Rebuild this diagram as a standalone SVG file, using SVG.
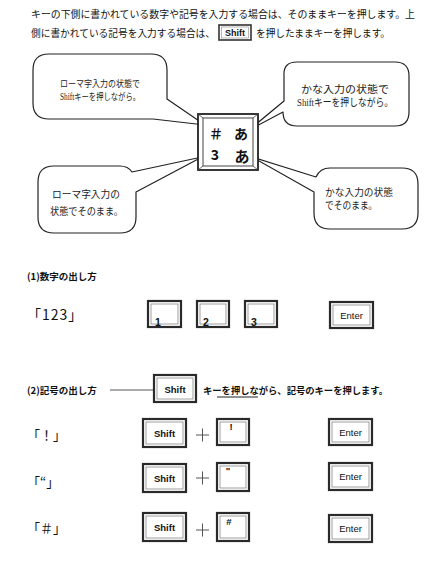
<svg xmlns="http://www.w3.org/2000/svg" width="444" height="563" viewBox="0 0 444 563">
<style>
.jp{font-family:"Noto Sans CJK JP","Noto Sans",sans-serif;fill:#111}
.mc{font-family:"Liberation Serif","Noto Sans CJK JP",serif;fill:#222}
.b{font-weight:bold}
.callout{fill:#fff;stroke:#222;stroke-width:1.2;stroke-linejoin:round}
.ko{fill:#fff;stroke:#2a2a2a;stroke-width:2.2}
.ki{fill:none;stroke:#777;stroke-width:0.7}
.kt{font-family:"Liberation Sans",Arial,sans-serif;fill:#111;text-anchor:middle}
.plus{stroke:#555;stroke-width:1}
</style>
<rect width="444" height="563" fill="#fff"/>

<g id="intro">
<text class="jp" x="31" y="18" font-size="9.8" textLength="384" lengthAdjust="spacingAndGlyphs">キーの下側に書かれている数字や記号を入力する場合は、そのままキーを押します。上</text>
<text class="jp" x="31" y="37" font-size="9.7" textLength="184" lengthAdjust="spacingAndGlyphs">側に書かれている記号を入力する場合は、</text>
<rect x="219" y="25" width="32" height="15" fill="#fff" stroke="#333" stroke-width="1.6"/>
<rect x="221.5" y="27" width="27" height="11" fill="none" stroke="#888" stroke-width="0.6"/>
<text class="kt b" x="235" y="36" font-size="9">Shift</text>
<text class="jp" x="256" y="37" font-size="9.7" textLength="134" lengthAdjust="spacingAndGlyphs">を押したままキーを押します。</text>
</g>

<g id="connectors">
<path class="callout" d="M49,54 H151 Q167,54 167,70 V99 L205,125 L153,119 H49 Q33,119 33,103 V70 Q33,54 49,54 Z"/>
<path class="callout" d="M297,62 H395 Q409,62 409,76 V112 Q409,126 395,126 H297 Q283,126 283,112 L249,130 L284,101 V76 Q283,62 297,62 Z"/>
<path class="callout" d="M54,166 H120 Q128,166 132,172 L202,157 L136,192 V217 Q136,233 120,233 H54 Q38,233 38,217 V182 Q38,166 54,166 Z"/>
<path class="callout" d="M330,168 H402 Q418,168 418,184 V213 Q418,229 402,229 H330 Q314,229 314,213 V192 L252,157 L316,177 Q320,168 330,168 Z"/>
</g>

<g id="callout-tl">
<text class="mc" x="100" y="87" text-anchor="middle" font-size="9.5" textLength="80" lengthAdjust="spacingAndGlyphs">ローマ字入力の状態で</text>
<text class="mc" x="100" y="100" text-anchor="middle" font-size="9.5" textLength="80" lengthAdjust="spacingAndGlyphs">Shiftキーを押しながら。</text>
</g>
<g id="callout-tr">
<text class="mc" x="345" y="93" text-anchor="middle" font-size="10.5" textLength="88" lengthAdjust="spacingAndGlyphs">かな入力の状態で</text>
<text class="mc" x="345" y="106" text-anchor="middle" font-size="10.5" textLength="96" lengthAdjust="spacingAndGlyphs">Shiftキーを押しながら。</text>
</g>
<g id="callout-bl">
<text class="mc" x="52" y="198" font-size="10" textLength="68" lengthAdjust="spacingAndGlyphs">ローマ字入力の</text>
<text class="mc" x="50" y="215" font-size="10" textLength="73" lengthAdjust="spacingAndGlyphs">状態でそのまま。</text>
</g>
<g id="callout-br">
<text class="mc" x="325" y="196" font-size="10" textLength="68" lengthAdjust="spacingAndGlyphs">かな入力の状態</text>
<text class="mc" x="325" y="209" font-size="10" textLength="52" lengthAdjust="spacingAndGlyphs">でそのまま。</text>
</g>

<g id="center-key">
<rect x="198" y="114" width="60" height="56" fill="#fff" stroke="#222" stroke-width="1.8"/>
<rect x="203" y="118" width="50" height="48" fill="none" stroke="#444" stroke-width="1"/>
<path d="M198,114 L203,118 M258,114 L253,118 M198,170 L203,166 M258,170 L253,166" stroke="#444" stroke-width="0.8"/>
<text class="jp b" x="216" y="138.5" font-size="14" text-anchor="middle">＃</text>
<text class="jp b" x="241" y="139" font-size="14" text-anchor="middle">あ</text>
<text class="jp b" x="215" y="160" font-size="14" text-anchor="middle">3</text>
<text class="jp b" x="242" y="161.5" font-size="15" text-anchor="middle">あ</text>
</g>

<g id="section1">
<text class="jp b" x="27" y="280" font-size="9.5">(1)数字の出し方</text>
<text class="jp" x="27" y="320" font-size="14" letter-spacing="1">「123」</text>
</g>
<g id="key-1"><rect class="ko" x="148" y="301" width="33" height="26"/><rect class="ki" x="151" y="304" width="27" height="20"/><text class="kt b" x="158" y="326" font-size="10.5">1</text></g>
<g id="key-2"><rect class="ko" x="197" y="301" width="32" height="26"/><rect class="ki" x="200" y="304" width="26" height="20"/><text class="kt b" x="206" y="326" font-size="10.5">2</text></g>
<g id="key-3"><rect class="ko" x="245" y="301" width="32" height="26"/><rect class="ki" x="248" y="304" width="26" height="20"/><text class="kt b" x="254" y="326" font-size="10.5">3</text></g>
<g id="key-enter-1"><rect class="ko" x="330" y="302" width="43" height="26"/><rect class="ki" x="333" y="305" width="37" height="20"/><text class="kt" x="351.5" y="318.5" font-size="9.5">Enter</text></g>

<g id="section2">
<text class="jp b" x="27" y="394" font-size="9.5">(2)記号の出し方</text>
<line x1="110" y1="390" x2="153" y2="390" stroke="#444" stroke-width="0.9"/>
<text class="jp b" x="203" y="394" font-size="9.5" textLength="185" lengthAdjust="spacingAndGlyphs">キーを押しながら、記号のキーを押します。</text>
<line x1="217" y1="397" x2="258" y2="397" stroke="#222" stroke-width="1"/>
</g>
<g id="key-shift-0"><rect class="ko" x="154" y="375" width="42" height="27"/><rect class="ki" x="157" y="378" width="36" height="21"/><text class="kt b" x="175" y="392.5" font-size="9.5">Shift</text></g>

<g id="row-excl">
<text class="jp" x="27" y="440" font-size="13">「！」</text>
</g>
<g id="key-shift-1"><rect class="ko" x="143" y="419" width="43" height="28"/><rect class="ki" x="146" y="422" width="37" height="22"/><text class="kt b" x="164.5" y="437" font-size="9.5">Shift</text></g>
<g id="plus-1"><path class="plus" d="M196,435 H209 M202.5,428.5 V441.5"/></g>
<g id="key-excl"><rect class="ko" x="217" y="419" width="32" height="26"/><rect class="ki" x="220" y="422" width="26" height="20"/><text class="kt b" x="231" y="430" font-size="9.5">!</text></g>
<g id="key-enter-2"><rect class="ko" x="329" y="419" width="43" height="26"/><rect class="ki" x="332" y="422" width="37" height="20"/><text class="kt" x="350.5" y="436" font-size="9.5">Enter</text></g>

<g id="row-quote">
<text class="jp" x="27" y="487" font-size="13">「“」</text>
</g>
<g id="key-shift-2"><rect class="ko" x="143" y="464" width="43" height="28"/><rect class="ki" x="146" y="467" width="37" height="22"/><text class="kt b" x="164.5" y="482" font-size="9.5">Shift</text></g>
<g id="plus-2"><path class="plus" d="M196,478 H209 M202.5,471.5 V484.5"/></g>
<g id="key-quote"><rect class="ko" x="217" y="463" width="32" height="28"/><rect class="ki" x="220" y="466" width="26" height="22"/><text class="kt b" x="228" y="474" font-size="9.5">"</text></g>
<g id="key-enter-3"><rect class="ko" x="329" y="463" width="43" height="27"/><rect class="ki" x="332" y="466" width="37" height="21"/><text class="kt" x="350.5" y="480" font-size="9.5">Enter</text></g>

<g id="row-hash">
<text class="jp" x="27" y="533" font-size="13">「＃」</text>
</g>
<g id="key-shift-3"><rect class="ko" x="143" y="513" width="43" height="28"/><rect class="ki" x="146" y="516" width="37" height="22"/><text class="kt b" x="164.5" y="531" font-size="9.5">Shift</text></g>
<g id="plus-3"><path class="plus" d="M196,530 H209 M202.5,523.5 V536.5"/></g>
<g id="key-hash"><rect class="ko" x="217" y="513" width="32" height="28"/><rect class="ki" x="220" y="516" width="26" height="22"/><text class="kt b" x="229" y="525" font-size="9.5">#</text></g>
<g id="key-enter-4"><rect class="ko" x="329" y="515" width="43" height="27"/><rect class="ki" x="332" y="518" width="37" height="21"/><text class="kt" x="350.5" y="532" font-size="9.5">Enter</text></g>
</svg>
